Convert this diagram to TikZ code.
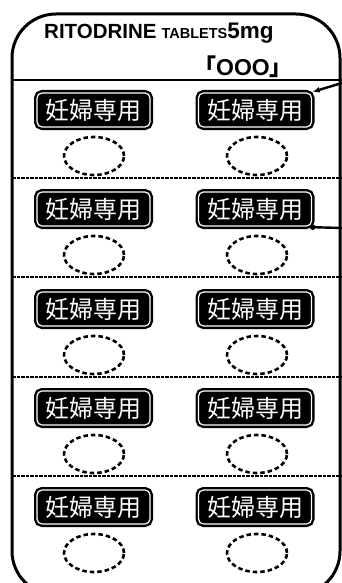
\documentclass[tikz,border=0pt]{standalone}
\usepackage{fontspec}
\setmainfont{Liberation Sans}
\newfontfamily\jpfont{Noto Sans CJK JP}
\usetikzlibrary{shapes.geometric,arrows.meta}
\begin{document}
\begin{tikzpicture}[x=1pt,y=-1pt,
  label/.style={draw=black, line width=2.4pt, double=white, double distance=1.2pt,
    fill=black, rounded corners=5pt, minimum width=113pt, minimum height=34pt,
    inner sep=0pt, text=white, font=\jpfont\fontsize{24}{24}\selectfont},
  spot/.style={ellipse, draw=black, line width=2.6pt, dash pattern=on 4.5pt off 3pt,
    minimum width=60pt, minimum height=38pt, inner sep=0pt},
  sep/.style={line width=2.4pt, dash pattern=on 3.5pt off 1pt},
  outline/.style={line width=3pt},
  leader/.style={line width=2.4pt}]
\useasboundingbox (0,0) rectangle (342,583);
\fill[white] (0,0) rectangle (342,583);
\begin{scope}
\clip (0,0) rectangle (342,583);
\draw[outline, rounded corners=44pt] (12,14) rectangle (340,595);
\end{scope}
\draw[line width=2.4pt] (12,80) -- (342,80);
% header text
\node[anchor=base west, inner sep=0pt] (title) at (44,39)
  {\fontsize{20.5}{20}\selectfont\bfseries RITODRINE\hspace{5pt}{\fontsize{14.5}{14}\selectfont TABLETS}{\fontsize{22.5}{22}\selectfont 5mg}};
\node[anchor=base, inner sep=0pt] (code) at (247,76)
  {\fontsize{23}{23}\selectfont\bfseries{\jpfont\bfseries\hspace{-8pt}「}OOO{\jpfont\bfseries 」\hspace{-8pt}}};
% separators
\foreach \y/\n in {178/1,277/2,377/3,476/4}
  \draw[sep] (12,\y) -- (342,\y);
% labels and spots
\foreach \r/\y in {1/110,2/209,3/309,4/408,5/507}{
  \node[label] (L\r) at (93.5,\y) {妊婦専用};
  \node[label] (R\r) at (255,\y) {妊婦専用};
  \node[spot] (SL\r) at (94,\y+46) {};
  \node[spot] (SR\r) at (257,\y+46) {};
}
% leader lines
\coordinate (p1) at (342,83);
\coordinate (p2) at (342,228);
\draw[leader, -{Latex[length=7pt,width=6pt]}] (p1) -- (R1.north east);
\draw[leader] (p2) -- (R2.south east);
\fill (R2.south east) circle (2.8pt);
\end{tikzpicture}
\end{document}
